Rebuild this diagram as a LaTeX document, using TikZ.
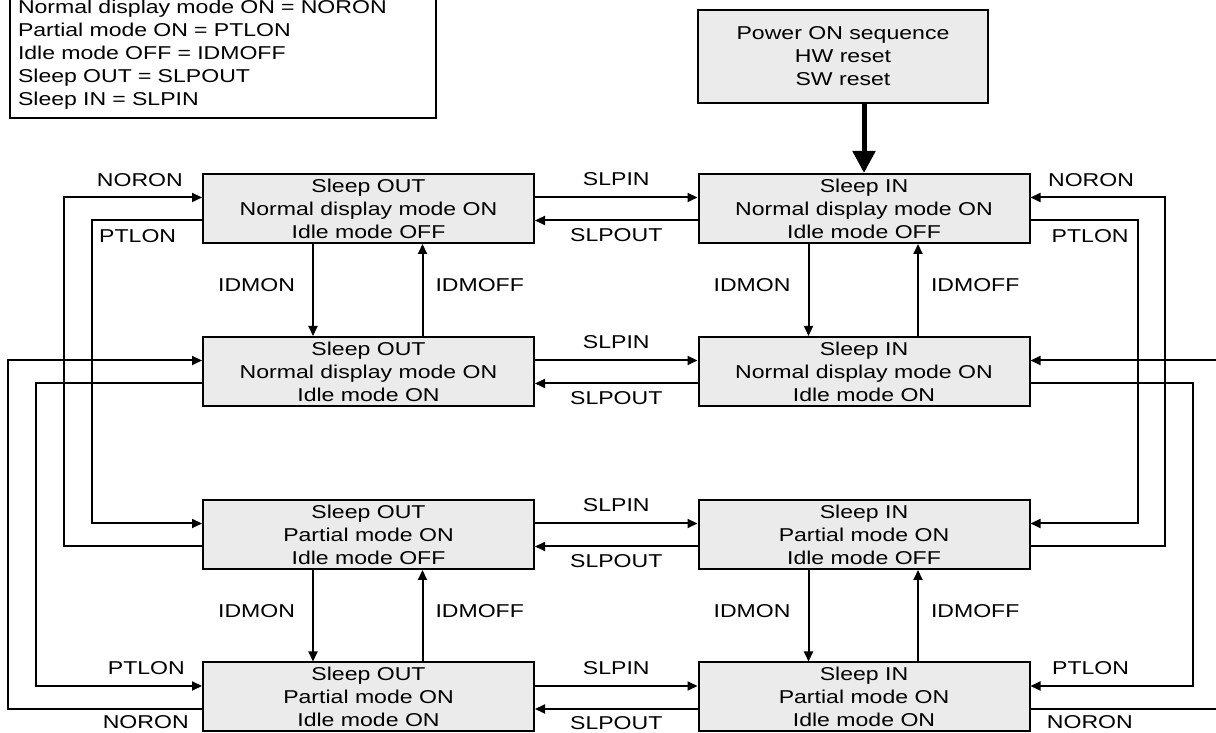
\documentclass[tikz,border=0pt]{standalone}
\usepackage{fontspec}
\setmainfont{Liberation Sans}[FakeStretch=1.24]
\usetikzlibrary{arrows.meta}
\definecolor{boxfill}{RGB}{235,235,235}
\begin{document}
\begin{tikzpicture}[x=1pt,y=1pt,
  font=\fontsize{18.6}{23}\selectfont,
  statebox/.style={draw, line width=2pt, fill=boxfill, minimum width=331pt, minimum height=69pt, align=center, inner sep=0pt},
  conn/.style={line width=2pt},
  arr/.style={conn, -{Triangle[length=10pt,width=9pt]}},
  bigarr/.style={line width=5pt, -{Triangle[length=22pt,width=22pt]}},
  lbl/.style={inner sep=0pt}]
\useasboundingbox (0,0) rectangle (1216,733);
\clip (0,0) rectangle (1216,733);

% legend
\node[draw, line width=2pt, anchor=south west, align=left, text width=410pt, inner xsep=8pt, inner ysep=9pt] (legend) at (9,614)
  {Normal display mode ON = NORON\\Partial mode ON = PTLON\\Idle mode OFF = IDMOFF\\Sleep OUT = SLPOUT\\Sleep IN = SLPIN};

% power box
\node[statebox, minimum width=290pt, minimum height=93pt] (P) at (843,676.5) {Power ON sequence\\HW reset\\SW reset};

% states
\node[statebox] (L1) at (368.5,524.5) {Sleep OUT\\Normal display mode ON\\Idle mode OFF};
\node[statebox] (R1) at (864,524.5) {Sleep IN\\Normal display mode ON\\Idle mode OFF};
\node[statebox] (L2) at (368.5,361.5) {Sleep OUT\\Normal display mode ON\\Idle mode ON};
\node[statebox] (R2) at (864,361.5) {Sleep IN\\Normal display mode ON\\Idle mode ON};
\node[statebox] (L3) at (368.5,198.5) {Sleep OUT\\Partial mode ON\\Idle mode OFF};
\node[statebox] (R3) at (864,198.5) {Sleep IN\\Partial mode ON\\Idle mode OFF};
\node[statebox] (L4) at (368.5,36) {Sleep OUT\\Partial mode ON\\Idle mode ON};
\node[statebox] (R4) at (864,36) {Sleep IN\\Partial mode ON\\Idle mode ON};

% ports
\foreach \n in {L1,L2,L3,L4,R1,R2,R3,R4}{
  \coordinate (\n wu) at ([yshift=11pt]\n.west);
  \coordinate (\n wl) at ([yshift=-12pt]\n.west);
  \coordinate (\n eu) at ([yshift=11pt]\n.east);
  \coordinate (\n el) at ([yshift=-12pt]\n.east);
  \coordinate (\n sa) at ([xshift=-55.5pt]\n.south);
  \coordinate (\n sb) at ([xshift=54pt]\n.south);
  \coordinate (\n na) at ([xshift=-55.5pt]\n.north);
  \coordinate (\n nb) at ([xshift=54pt]\n.north);
}
\coordinate (xA) at (64,0);
\coordinate (xB) at (92,0);
\coordinate (xC) at (8,0);
\coordinate (xD) at (36,0);
\coordinate (xE) at (1165,0);
\coordinate (xF) at (1138,0);
\coordinate (xG) at (1222,0);
\coordinate (xH) at (1193,0);

% power-on arrow
\draw[bigarr] (P.south -| R1.north) -- (R1.north);

% sleep in / out
\foreach \rowi in {1,2,3,4}{
  \draw[arr] (L\rowi eu) -- node[lbl, above=10.8pt]{SLPIN} (R\rowi wu);
  \draw[arr] (R\rowi wl) -- node[lbl, below=7pt]{SLPOUT} (L\rowi el);
}

% idle on / off
\foreach \a/\b in {L1/L2, R1/R2, L3/L4, R3/R4}{
  \draw[arr] (\a sa) -- node[lbl, left=17pt, yshift=5pt]{IDMON} (\b na);
  \draw[arr] (\b nb) -- node[lbl, right=12pt, yshift=5pt]{IDMOFF} (\a sb);
}

% left side loops
\draw[arr] (L3wl) -- (L3wl -| xA) -- (L1wu -| xA) -- node[lbl, above=10pt, pos=0.55]{NORON} (L1wu);
\draw[arr] (L1wl) -- node[lbl, below=8pt, pos=0.585]{PTLON} (L1wl -| xB) -- (L3wu -| xB) -- (L3wu);
\draw[arr] (L4wl) -- node[lbl, below=6pt, pos=0.29]{NORON} (L4wl -| xC) -- (L2wu -| xC) -- (L2wu);
\draw[arr] (L2wl) -- (L2wl -| xD) -- (L4wu -| xD) -- node[lbl, above=10pt, pos=0.665]{PTLON} (L4wu);

% right side loops
\draw[arr] (R3el) -- (R3el -| xE) -- (R1eu -| xE) -- node[lbl, above=10pt, pos=0.55]{NORON} (R1eu);
\draw[arr] (R1el) -- node[lbl, below=8pt, pos=0.555]{PTLON} (R1el -| xF) -- (R3eu -| xF) -- (R3eu);
\draw[arr] (R4el) -- node[lbl, below=6pt, pos=0.31]{NORON} (R4el -| xG) -- (R2eu -| xG) -- (R2eu);
\draw[arr] (R2el) -- (R2el -| xH) -- (R4eu -| xH) -- node[lbl, above=10pt, pos=0.63]{PTLON} (R4eu);
\end{tikzpicture}
\end{document}
